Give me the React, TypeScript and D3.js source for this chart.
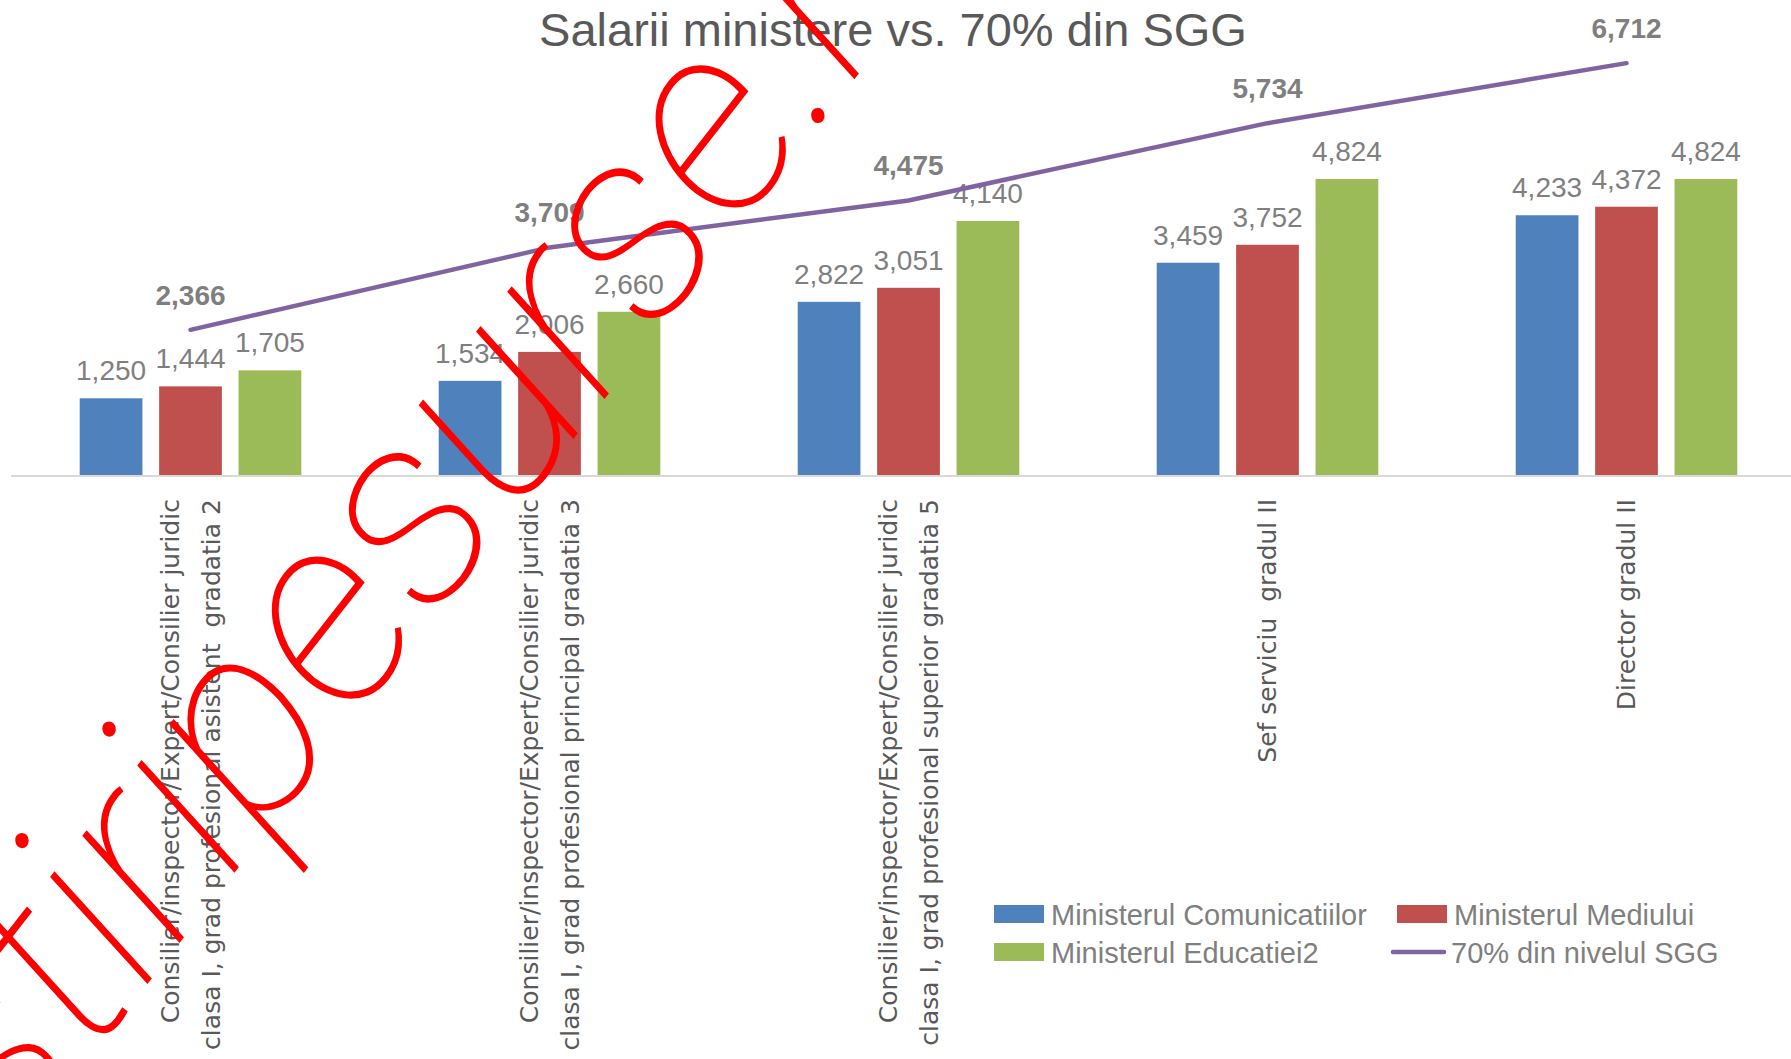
import React, { useEffect, useRef } from 'react';
import * as d3 from 'd3';

// category labels (one or two lines each)
const categories: string[][] = [
  ['Consilier/inspector/Expert/Consilier juridic', 'clasa I, grad profesional asistent  gradatia 2'],
  ['Consilier/inspector/Expert/Consilier juridic', 'clasa I, grad profesional principal gradatia 3'],
  ['Consilier/inspector/Expert/Consilier juridic', 'clasa I, grad profesional superior gradatia 5'],
  ['Sef serviciu  gradul II'],
  ['Director gradul II'],
];
const barSeries = ['Ministerul Comunicatiilor', 'Ministerul Mediului', 'Ministerul Educatiei2'];
const comunicatii = [1250, 1534, 2822, 3459, 4233];
const mediu = [1444, 2006, 3051, 3752, 4372];
const educatie = [1705, 2660, 4140, 4824, 4824];
const lineSeries = '70% din nivelul SGG';
const sgg = [2366, 3709, 4475, 5734, 6712];
const barColors = ['#4F81BD', '#C0504D', '#9BBB59'];
const lineColor = '#8064A2';

const W = 1791, H = 1059;

export default function App() {
  const ref = useRef<SVGSVGElement>(null);

  useEffect(() => {
    const svg = d3.select(ref.current);
    svg.selectAll('*').remove();

    const values = [comunicatii, mediu, educatie];
    const fmt = d3.format(',');
    const baseY = 475;

    const x = d3.scaleBand<number>().domain(d3.range(categories.length)).range([11, 1806]);
    const outer = 68.7;
    const xs = d3.scaleBand<number>().domain(d3.range(barSeries.length))
      .range([outer, x.bandwidth() - outer]).paddingInner(0.21);
    const y = d3.scaleLinear().domain([0, 7000]).range([baseY, baseY - 7000 * 0.06136]);

    // title
    svg.append('text')
      .attr('x', 893).attr('y', 46)
      .attr('text-anchor', 'middle')
      .style('font-family', '"Liberation Sans", Arial, sans-serif')
      .style('font-size', '47px')
      .attr('fill', '#595959')
      .text('Salarii ministere vs. 70% din SGG');

    // bars
    const g = svg.append('g');
    values.forEach((vals, s) => {
      g.selectAll(null)
        .data(vals)
        .enter()
        .append('rect')
        .attr('x', (d, i) => x(i)! + xs(s)!)
        .attr('y', d => y(d))
        .attr('width', xs.bandwidth())
        .attr('height', d => baseY - y(d))
        .attr('fill', barColors[s]);

      g.selectAll(null)
        .data(vals)
        .enter()
        .append('text')
        .attr('x', (d, i) => x(i)! + xs(s)! + xs.bandwidth() / 2)
        .attr('y', d => y(d) - 18)
        .attr('text-anchor', 'middle')
        .style('font-family', '"Liberation Sans", Arial, sans-serif')
        .style('font-size', '28px')
        .attr('fill', '#7F7F7F')
        .text(d => fmt(d));
    });

    // axis line
    svg.append('line')
      .attr('x1', 11).attr('x2', W)
      .attr('y1', baseY + 1).attr('y2', baseY + 1)
      .attr('stroke', '#D9D9D9').attr('stroke-width', 2);

    // category labels, rotated
    categories.forEach((lines, i) => {
      const cx = x(i)! + x.bandwidth() / 2;
      lines.forEach((t, j) => {
        const lx = cx + (j - (lines.length - 1) / 2) * 41;
        svg.append('text')
          .attr('transform', `translate(${lx},499) rotate(-90)`)
          .attr('text-anchor', 'end')
          .attr('dy', '0.35em')
          .style('font-family', '"DejaVu Sans", Verdana, sans-serif')
          .style('font-size', '25px')
          .style('white-space', 'pre')
          .attr('fill', '#595959')
          .text(t);
      });
    });

    // line series
    const line = d3.line<number>()
      .x((d, i) => x(i)! + x.bandwidth() / 2)
      .y(d => y(d));
    svg.append('path')
      .datum(sgg)
      .attr('d', line)
      .attr('fill', 'none')
      .attr('stroke', lineColor)
      .attr('stroke-width', 4.5)
      .attr('stroke-linecap', 'round');

    svg.selectAll(null)
      .data(sgg)
      .enter()
      .append('text')
      .attr('x', (d, i) => x(i)! + x.bandwidth() / 2)
      .attr('y', d => y(d) - 25)
      .attr('text-anchor', 'middle')
      .style('font-family', '"Liberation Sans", Arial, sans-serif')
      .style('font-size', '28px')
      .style('font-weight', 'bold')
      .attr('fill', '#7F7F7F')
      .text(d => fmt(d));

    // legend
    const legend = [
      { name: barSeries[0], color: barColors[0], x: 994, y: 914, bar: true },
      { name: barSeries[1], color: barColors[1], x: 1397, y: 914, bar: true },
      { name: barSeries[2], color: barColors[2], x: 994, y: 952, bar: true },
      { name: lineSeries, color: lineColor, x: 1391, y: 952, bar: false },
    ];
    legend.forEach(l => {
      if (l.bar) {
        svg.append('rect').attr('x', l.x).attr('y', l.y - 9).attr('width', 50).attr('height', 18).attr('fill', l.color);
      } else {
        svg.append('line').attr('x1', l.x + 2).attr('x2', l.x + 53).attr('y1', l.y).attr('y2', l.y)
          .attr('stroke', l.color).attr('stroke-width', 4.5).attr('stroke-linecap', 'round');
      }
      svg.append('text')
        .attr('x', l.bar ? l.x + 57 : l.x + 60).attr('y', l.y + 11)
        .style('font-family', '"Liberation Sans", Arial, sans-serif')
        .style('font-size', '29px')
        .attr('fill', '#7F7F7F')
        .text(l.name);
    });

    // watermark
    svg.append('text')
      .attr('transform', 'translate(10,1160) rotate(-52)')
      .style('font-family', 'Roboto, "Noto Sans", sans-serif')
      .style('font-size', '270px')
      .style('font-weight', 100)
      .style('font-style', 'italic')
      .attr('fill', '#FF0000')
      .text('ştiripesurse.ro');
  }, []);

  return (
    <svg ref={ref} width={W} height={H} style={{ position: 'absolute', left: 0, top: 0, background: '#fff' }} />
  );
}
